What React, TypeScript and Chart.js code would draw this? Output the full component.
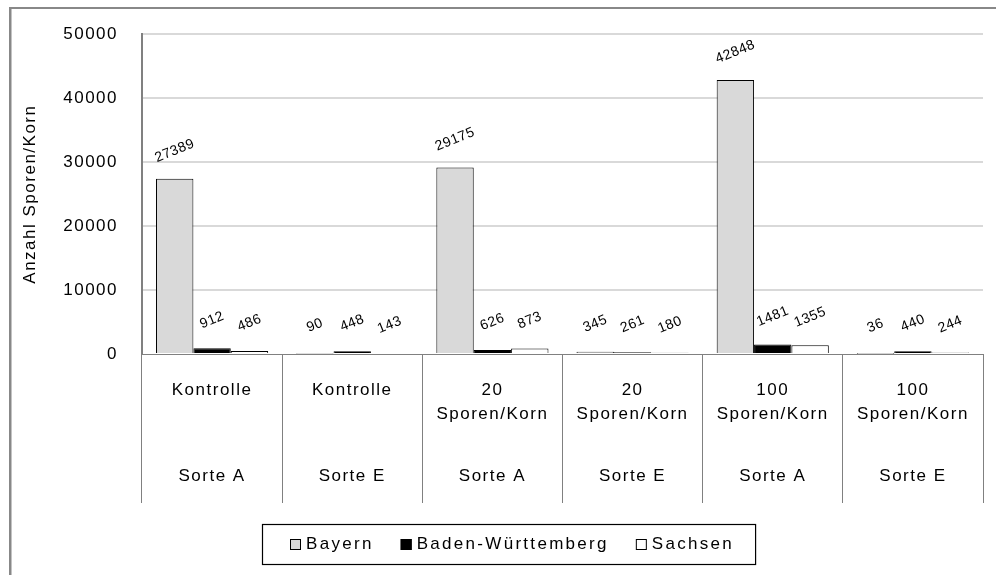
import React, { useEffect, useRef } from "react";
import { Chart, registerables } from "chart.js";

Chart.register(...registerables);

// ---- data ----
const treatments: string[][] = [
  ["Kontrolle"],
  ["Kontrolle"],
  ["20", "Sporen/Korn"],
  ["20", "Sporen/Korn"],
  ["100", "Sporen/Korn"],
  ["100", "Sporen/Korn"],
];
const varieties = ["Sorte A", "Sorte E", "Sorte A", "Sorte E", "Sorte A", "Sorte E"];
const seriesNames = ["Bayern", "Baden-Württemberg", "Sachsen"];
const bayern = [27389, 90, 29175, 345, 42848, 36];
const badenWuerttemberg = [912, 448, 626, 261, 1481, 440];
const sachsen = [486, 143, 873, 180, 1355, 244];
const yMin = 0;
const yMax = 50000;
const yStep = 10000;
const yAxisTitle = "Anzahl Sporen/Korn";

const FONT = "'Liberation Sans', Arial, sans-serif";

const customPlugin = {
  id: "customDecor",
  beforeDraw(chart: any) {
    const ctx = chart.ctx;
    ctx.save();
    ctx.fillStyle = "#888888";
    ctx.fillRect(9, 7, 987, 2);
    ctx.fillRect(9, 7, 2.5, 568);
    ctx.restore();
    ctx.letterSpacing = "1.5px";
  },
  afterDatasetsDraw(chart: any) {
    const ctx = chart.ctx;
    ctx.save();
    ctx.letterSpacing = "0.5px";
    ctx.fillStyle = "#000";
    ctx.font = `14px ${FONT}`;
    ctx.textAlign = "center";
    ctx.textBaseline = "middle";
    chart.data.datasets.forEach((ds: any, i: number) => {
      const meta = chart.getDatasetMeta(i);
      meta.data.forEach((el: any, j: number) => {
        ctx.save();
        ctx.translate(el.x, el.y - 28);
        ctx.rotate((-22 * Math.PI) / 180);
        ctx.fillText(String(ds.data[j]), 0, 0);
        ctx.restore();
      });
    });
    ctx.restore();
  },
  afterDraw(chart: any) {
    const ctx = chart.ctx;
    const xScale = chart.scales.x;
    ctx.save();
    ctx.letterSpacing = "1.5px";
    ctx.fillStyle = "#000";
    ctx.font = `17px ${FONT}`;
    ctx.textAlign = "center";
    ctx.textBaseline = "middle";
    treatments.forEach((lines, j) => {
      const x = xScale.getPixelForValue(j);
      lines.forEach((line, k) => {
        ctx.fillText(line, x, xScale.top + 36 + k * 24);
      });
      ctx.fillText(varieties[j], x, xScale.top + 122);
    });
    ctx.restore();

    // legend
    ctx.save();
    ctx.letterSpacing = "2.3px";
    ctx.font = `17px ${FONT}`;
    ctx.textBaseline = "middle";
    ctx.textAlign = "left";
    const sq = 11;
    const gapSqText = 5;
    const gapItems = 27;
    const items = chart.data.datasets.map((ds: any) => ({
      label: ds.label,
      fill: ds.backgroundColor,
      w: ctx.measureText(ds.label).width,
    }));
    let total = 0;
    items.forEach((it: any, i: number) => {
      total += sq + gapSqText + it.w + (i < items.length - 1 ? gapItems : 0);
    });
    const cy = 544.5;
    let x = Math.round(512 - total / 2);
    const boxL = x - 28;
    const boxR = x + total + 21;
    ctx.strokeStyle = "#000";
    ctx.lineWidth = 1.2;
    ctx.strokeRect(boxL + 0.5, 524.5, boxR - boxL, 40);
    items.forEach((it: any) => {
      ctx.fillStyle = it.fill;
      ctx.fillRect(x, cy - sq / 2, sq, sq);
      ctx.lineWidth = 1;
      ctx.strokeStyle = "#000";
      ctx.strokeRect(x + 0.5, cy - sq / 2 + 0.5, sq - 1, sq - 1);
      ctx.fillStyle = "#000";
      ctx.fillText(it.label, x + sq + gapSqText, cy);
      x += sq + gapSqText + it.w + gapItems;
    });
    ctx.restore();
  },
};

export default function App() {
  const canvasRef = useRef<HTMLCanvasElement | null>(null);

  useEffect(() => {
    if (!canvasRef.current) return;
    Chart.defaults.font.family = FONT;
    const chart = new Chart(canvasRef.current, {
      type: "bar",
      data: {
        labels: treatments.map((t, i) => t.join(" ") + " " + varieties[i]),
        datasets: [
          {
            label: seriesNames[0],
            data: bayern,
            backgroundColor: "#d9d9d9",
            borderColor: "#000",
            borderWidth: 1,
          },
          {
            label: seriesNames[1],
            data: badenWuerttemberg,
            backgroundColor: "#000000",
            borderColor: "#000",
            borderWidth: 1,
          },
          {
            label: seriesNames[2],
            data: sachsen,
            backgroundColor: "#ffffff",
            borderColor: "#000",
            borderWidth: 1,
          },
        ],
      },
      options: {
        responsive: false,
        animation: false,
        devicePixelRatio: 1,
        layout: { padding: { top: 30, right: 13, bottom: 72, left: 0 } },
        datasets: {
          bar: { categoryPercentage: 0.8, barPercentage: 1.0 },
        },
        plugins: {
          legend: { display: false },
          tooltip: { enabled: false },
        },
        scales: {
          x: {
            offset: true,
            grid: {
              offset: true,
              drawOnChartArea: false,
              drawTicks: true,
              tickLength: 149,
              color: "#808080",
              lineWidth: 1,
            },
            border: { display: true, color: "#808080", width: 1 },
            ticks: { display: false },
            afterFit(scale: any) {
              scale.height = 149;
            },
          },
          y: {
            min: yMin,
            max: yMax,
            ticks: {
              stepSize: yStep,
              color: "#000",
              font: { size: 17, family: FONT },
              padding: 24,
              callback: (v: any) => String(v),
            },
            grid: {
              color: (c: any) => (c.tick && c.tick.value === 0 ? "rgba(0,0,0,0)" : "#d9d9d9"),
              lineWidth: 2,
              drawTicks: false,
            },
            border: { display: true, color: "#808080", width: 2 },
            title: {
              display: true,
              text: yAxisTitle,
              color: "#000",
              font: { size: 17, family: FONT },
              padding: { top: 20, bottom: 0 },
            },
            afterFit(scale: any) {
              scale.width = 142;
            },
          },
        },
      },
      plugins: [customPlugin],
    });
    return () => chart.destroy();
  }, []);

  return (
    <div style={{ position: "absolute", left: 0, top: 0, width: 996, height: 575, background: "#fff" }}>
      <canvas ref={canvasRef} width={996} height={575} style={{ display: "block" }} />
    </div>
  );
}
